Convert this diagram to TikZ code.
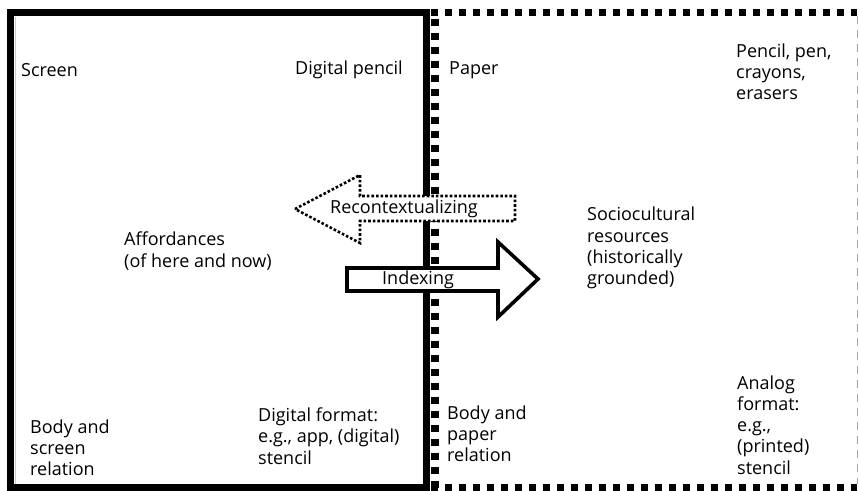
\documentclass[tikz,border=0pt]{standalone}
\usepackage{fontspec}
\setmainfont{Open Sans}
\begin{document}
\begin{tikzpicture}[x=1pt,y=-1pt,
  lbl/.style={anchor=west,align=left,inner sep=0pt,font=\fontsize{18}{21.2}\selectfont,text=black},
  thickdash/.style={line width=7.5pt,dash pattern=on 7pt off 7pt},
  arrowdot/.style={line width=2.6pt,dash pattern=on 2.6pt off 2pt,fill=white},
  arrowsolid/.style={line width=3.6pt,fill=white,line join=miter}]
\useasboundingbox (0,0) rectangle (859,490);
\clip (0,0) rectangle (859,490);
% right box (dashed)
\draw[thickdash] (435,487.5) -- (435,12.5);
\draw[thickdash] (431,12.5) -- (857,12.5);
\draw[thickdash] (431,487.5) -- (857,487.5);
\draw[gray!70,line width=0.8pt,dash pattern=on 8pt off 6pt] (857,16) -- (857,484);
% left box (solid)
\draw[line width=7.5pt] (10.5,12.5) rectangle (426.5,488);
\draw[gray!40,line width=0.6pt] (14.8,16.5) -- (14.8,484);
% arrows
\draw[arrowdot] (295,209) -- (360,175) -- (360,196) -- (515,196) -- (515,221) -- (360,221) -- (360,243) -- cycle;
\draw[arrowsolid] (347,268) -- (498,268) -- (498,242) -- (538,279) -- (498,317) -- (498,291) -- (347,291) -- cycle;
\node[lbl] (recon) at (330,209) {Recontextualizing};
\node[lbl] (index) at (382,280) {Indexing};
% labels
\node[lbl] (screen) at (21,70) {Screen};
\node[lbl] (dpencil) at (295,70) {Digital pencil};
\node[lbl] (paper) at (449,70) {Paper};
\node[lbl] (pencil) at (736,72) {Pencil, pen,\\crayons,\\erasers};
\node[lbl] (afford) at (124,251) {Affordances\\(of here and now)};
\node[lbl] (socio) at (587,248) {Sociocultural\\resources\\(historically\\grounded)};
\node[lbl] (bodyscreen) at (30,448) {Body and\\screen\\relation};
\node[lbl] (dformat) at (258,436) {Digital format:\\e.g., app, (digital)\\stencil};
\node[lbl] (bodypaper) at (447,434) {Body and\\paper\\relation};
\node[lbl] (analog) at (737,425) {Analog\\format:\\e.g.,\\(printed)\\stencil};
\end{tikzpicture}
\end{document}
